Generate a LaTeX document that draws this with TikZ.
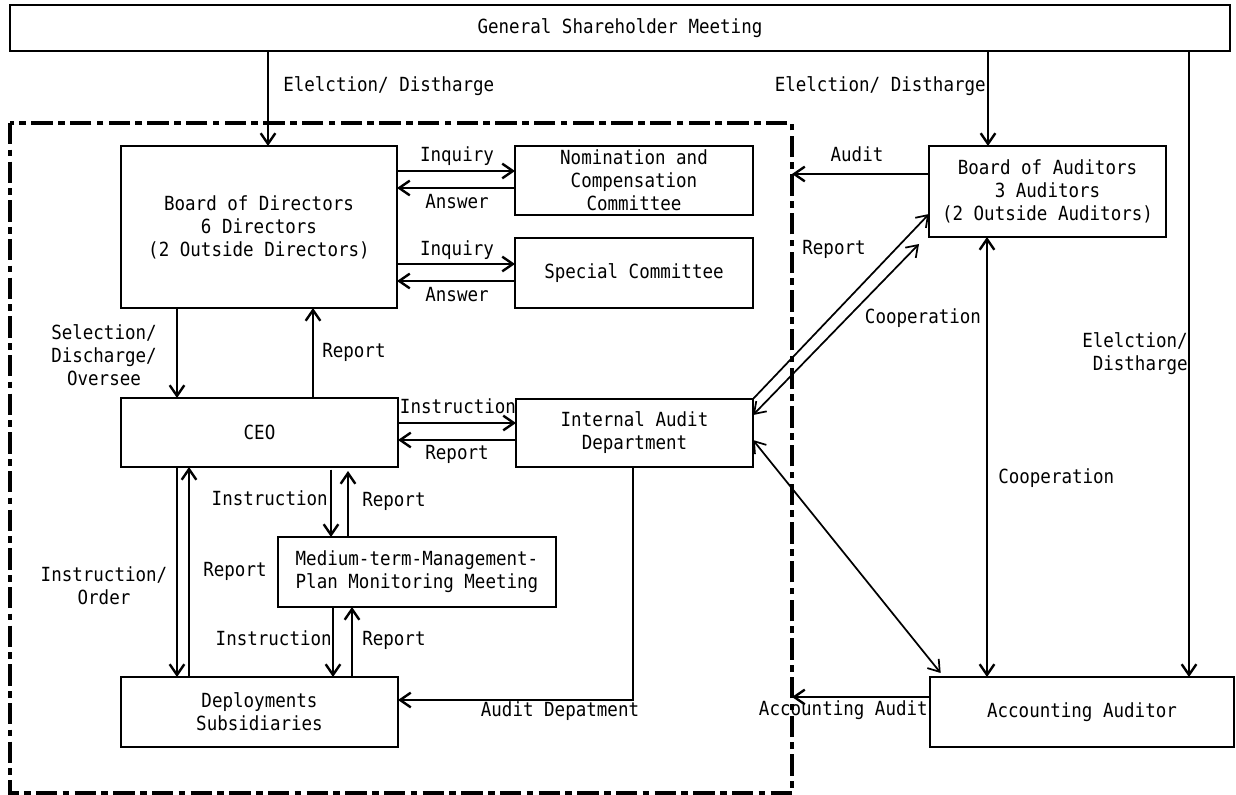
\documentclass[tikz,border=0pt]{standalone}
\usepackage{fontspec}
\setmainfont{DejaVu Sans Mono}[FakeStretch=0.9]
\usepackage{tikz}
\usetikzlibrary{arrows.meta}

\tikzset{
  box/.style={draw, line width=1.3pt, inner sep=0pt, outer sep=0pt, align=center},
  lbl/.style={inner sep=0pt, align=center},
  arr/.style={line width=1.8pt, -{Straight Barb[length=8pt,width=11pt]}},
  dbl/.style={line width=1.8pt, {Straight Barb[length=8pt,width=11pt]}-{Straight Barb[length=8pt,width=11pt]}},
}

\begin{document}
\begin{tikzpicture}[x=0.75pt, y=-0.75pt, font=\fontsize{14.6pt}{17.3pt}\selectfont]
    \useasboundingbox (0,0) rectangle (1236,795);
    % define coordinates
    \coordinate (NW) at (10,123);
    \coordinate (SE) at (792,793);
    \coordinate (coopEnd) at (919,244);
    % company group
    \draw[line width=2.5pt, dash pattern=on 16pt off 4pt on 5pt off 4pt] (NW) rectangle (SE);
    % boxes
    \node[box, minimum width=915pt, minimum height=34.5pt] (gsm) at (620,28) {General Shareholder Meeting};
    \node[box, minimum width=207pt, minimum height=121.5pt] (bod) at (259,227) {Board of Directors\\6 Directors\\(2 Outside Directors)};
    \node[box, minimum width=178.5pt, minimum height=51.75pt] (nom) at (634,180.5) {Nomination and\\Compensation\\Committee};
    \node[box, minimum width=178.5pt, minimum height=52.5pt] (spc) at (634,273) {Special Committee};
    \node[box, minimum width=207.75pt, minimum height=51.75pt] (ceo) at (259.5,432.5) {CEO};
    \node[box, minimum width=177.75pt, minimum height=51pt] (iad) at (634.5,433) {Internal Audit\\Department};
    \node[box, minimum width=208.5pt, minimum height=52.5pt] (mtm) at (417,572) {Medium-term-Management-\\Plan Monitoring Meeting};
    \node[box, minimum width=207.75pt, minimum height=52.5pt] (dep) at (259.5,712) {Deployments\\Subsidiaries};
    \node[box, minimum width=177.75pt, minimum height=68.25pt] (boa) at (1047.5,191.5) {Board of Auditors\\3 Auditors\\(2 Outside Auditors)};
    \node[box, minimum width=228pt, minimum height=52.5pt] (aa) at (1082,712) {Accounting Auditor};
    % election
    \draw[arr] (gsm.south -| 268,0) -- (bod.north -| 268,0);
    \draw[arr] (gsm.south -| 988,0) -- (boa.north -| 988,0);
    \draw[arr] (gsm.south -| 1189,0) -- (aa.north -| 1189,0);
    % committees
    \draw[arr] (bod.east |- 0,171) -- (nom.west |- 0,171);
    \draw[arr] (nom.west |- 0,188) -- (bod.east |- 0,188);
    \draw[arr] (bod.east |- 0,264) -- (spc.west |- 0,264);
    \draw[arr] (spc.west |- 0,281) -- (bod.east |- 0,281);
    % inside the company
    \draw[arr] (bod.south -| 177,0) -- (ceo.north -| 177,0);
    \draw[arr] (ceo.north -| 313,0) -- (bod.south -| 313,0);
    \draw[arr] (ceo.east |- 0,423) -- (iad.west |- 0,423);
    \draw[arr] (iad.west |- 0,440) -- (ceo.east |- 0,440);
    \draw[arr] (ceo.south -| 177,0) -- (dep.north -| 177,0);
    \draw[arr] (dep.north -| 189,0) -- (ceo.south -| 189,0);
    \draw[arr, shorten <=2pt] (ceo.south -| 331,0) -- (mtm.north -| 331,0);
    \draw[arr, shorten >=3pt] (mtm.north -| 348,0) -- (ceo.south -| 348,0);
    \draw[arr] (mtm.south -| 333,0) -- (dep.north -| 333,0);
    \draw[arr] (dep.north -| 352,0) -- (mtm.south -| 352,0);
    \draw[arr] (iad.south -| 633,0) |- (dep.east |- 0,700);
    % auditors
    \draw[arr] (boa.west |- 0,174) -- (SE |- 0,174);
    \draw[arr] (aa.west |- 0,697) -- (SE |- 0,697);
    \draw[dbl] (boa.south -| 987,0) -- (aa.north -| 987,0);
    \draw[arr, line width=1.3pt] (iad.north east) -- (boa.west |- 0,214);
    \draw[dbl, line width=1.3pt] (iad.east |- 0,415) -- (coopEnd);
    \draw[dbl, line width=1.3pt] (iad.east |- 0,440) -- ([xshift=8pt,yshift=3pt]aa.north west);
    % labels
    \node[lbl, anchor=mid west] (lElect1) at (283,88) {Elelction/ Distharge};
    \node[lbl, anchor=mid east] (lElect2) at (986,88) {Elelction/ Distharge};
    \node[lbl, anchor=mid] (lInq1) at (457,158) {Inquiry};
    \node[lbl, anchor=mid] (lAns1) at (457,205) {Answer};
    \node[lbl, anchor=mid] (lInq2) at (457,252) {Inquiry};
    \node[lbl, anchor=mid] (lAns2) at (457,298) {Answer};
    \node[lbl, anchor=mid] (lAudit) at (857,158) {Audit};
    \node[lbl, anchor=mid] (lRepBoa) at (834,251) {Report};
    \node[lbl, anchor=mid] (lCoop1) at (923,320) {Cooperation};
    \node[lbl, anchor=east, align=right] (lElect3) at (1188,354) {Elelction/\\Distharge};
    \node[lbl, anchor=mid west] (lCoop2) at (998,480) {Cooperation};
    \node[lbl] (lSel) at (104,355) {Selection/\\Discharge/\\Oversee};
    \node[lbl, anchor=mid west] (lRep1) at (322,354) {Report};
    \node[lbl, anchor=mid] (lInst1) at (458,410) {Instruction};
    \node[lbl, anchor=mid] (lRep2) at (457,456) {Report};
    \node[lbl, anchor=mid east] (lInst2) at (328,502) {Instruction};
    \node[lbl, anchor=mid west] (lRep3) at (362,503) {Report};
    \node[lbl] (lInstOrd) at (104,586) {Instruction/\\Order};
    \node[lbl, anchor=mid] (lRep4) at (235,573) {Report};
    \node[lbl, anchor=mid east] (lInst3) at (332,642) {Instruction};
    \node[lbl, anchor=mid west] (lRep5) at (362,642) {Report};
    \node[lbl, anchor=mid] (lAudDep) at (560,713) {Audit Depatment};
    \node[lbl, anchor=mid east] (lAccAud) at (928,712) {Accounting Audit};
\end{tikzpicture}
\end{document}
